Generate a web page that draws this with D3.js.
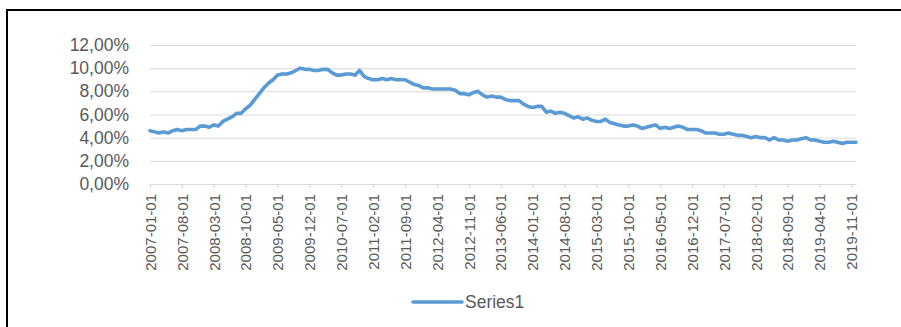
<!DOCTYPE html>
<html>
<head>
<meta charset="utf-8">
<script src="https://cdn.jsdelivr.net/npm/d3@7"></script>
<style>
  html, body { margin: 0; padding: 0; background: #fff; }
  svg { display: block; }
</style>
</head>
<body>
<svg id="chart" width="901" height="327"></svg>
<script>
// Monthly rate, January 2007 through December 2019 (percent)
const values = [
  4.6, 4.5, 4.4, 4.5, 4.4, 4.6, 4.7, 4.6, 4.7, 4.7, 4.7, 5.0,
  5.0, 4.9, 5.1, 5.0, 5.4, 5.6, 5.8, 6.1, 6.1, 6.5, 6.8, 7.3,
  7.8, 8.3, 8.7, 9.0, 9.4, 9.5, 9.5, 9.6, 9.8, 10.0, 9.9, 9.9,
  9.8, 9.8, 9.9, 9.9, 9.6, 9.4, 9.4, 9.5, 9.5, 9.4, 9.8, 9.3,
  9.1, 9.0, 9.0, 9.1, 9.0, 9.1, 9.0, 9.0, 9.0, 8.8, 8.6, 8.5,
  8.3, 8.3, 8.2, 8.2, 8.2, 8.2, 8.2, 8.1, 7.8, 7.8, 7.7, 7.9,
  8.0, 7.7, 7.5, 7.6, 7.5, 7.5, 7.3, 7.2, 7.2, 7.2, 6.9, 6.7,
  6.6, 6.7, 6.7, 6.2, 6.3, 6.1, 6.2, 6.1, 5.9, 5.7, 5.8, 5.6,
  5.7, 5.5, 5.4, 5.4, 5.6, 5.3, 5.2, 5.1, 5.0, 5.0, 5.1, 5.0,
  4.8, 4.9, 5.0, 5.1, 4.8, 4.9, 4.8, 4.9, 5.0, 4.9, 4.7, 4.7,
  4.7, 4.6, 4.4, 4.4, 4.4, 4.3, 4.3, 4.4, 4.3, 4.2, 4.2, 4.1,
  4.0, 4.1, 4.0, 4.0, 3.8, 4.0, 3.8, 3.8, 3.7, 3.8, 3.8, 3.9,
  4.0, 3.8, 3.8, 3.7, 3.6, 3.6, 3.7, 3.6, 3.5, 3.6, 3.6, 3.6
];

// One category per month, labelled as the first day of the month
const fmtDay = d3.timeFormat("%Y-%m-%d");
const categories = d3.timeMonth.range(new Date(2007, 0, 1), new Date(2020, 0, 1)).map(fmtDay);

// Every seventh month carries a label
const labelStep = 7;
const tickLabels = categories.filter((d, i) => i % labelStep === 0);

const yTicks = [0, 2, 4, 6, 8, 10, 12];
const seriesName = "Series1";

const svg = d3.select("#chart");
const W = 901, H = 327;
const plotLeft = 150, plotRight = 856, plotTop = 45, plotBottom = 184;
const blue = "#5b9bd5";
const textColor = "#595959";
const gridColor = "#d9d9d9";
const font = "'Liberation Sans', Arial, sans-serif";

svg.append("rect").attr("width", W).attr("height", H).attr("fill", "#fff");

// Frame: top and left edges
svg.append("line").attr("x1", 6).attr("x2", W).attr("y1", 10).attr("y2", 10)
  .attr("stroke", "#000").attr("stroke-width", 2);
svg.append("line").attr("x1", 7).attr("x2", 7).attr("y1", 9).attr("y2", H)
  .attr("stroke", "#000").attr("stroke-width", 2);

const x = d3.scalePoint().domain(categories).range([plotLeft, plotRight]);
const y = d3.scaleLinear().domain([0, 12]).range([plotBottom, plotTop]);

// Horizontal gridlines and y labels
const yAxis = d3.axisLeft(y)
  .tickValues(yTicks)
  .tickSize(-(plotRight - plotLeft))
  .tickPadding(21)
  .tickFormat(d => d3.format(".2f")(d).replace(".", ",") + "%");

const gy = svg.append("g").attr("transform", `translate(${plotLeft},0)`).call(yAxis);
gy.select(".domain").remove();
gy.selectAll(".tick line").attr("stroke", gridColor).attr("stroke-width", 1);
gy.selectAll(".tick text")
  .attr("fill", textColor)
  .style("font-family", font)
  .style("font-size", "17.5px");

// Category axis along the bottom
const xAxis = d3.axisBottom(x)
  .tickValues(tickLabels)
  .tickSize(4)
  .tickSizeOuter(0)
  .tickPadding(6);

const gx = svg.append("g").attr("transform", `translate(0,${plotBottom})`).call(xAxis);
gx.select(".domain").attr("stroke", gridColor).attr("stroke-width", 1.2);
gx.selectAll(".tick line").attr("stroke", gridColor).attr("stroke-width", 1.2);
gx.selectAll(".tick text")
  .attr("fill", textColor)
  .style("font-family", font)
  .style("font-size", "15px")
  .attr("text-anchor", "end")
  .attr("dy", "0.35em")
  .attr("transform", "rotate(-90)")
  .attr("x", -10)
  .attr("y", 0);

// The series line
const line = d3.line()
  .x((d, i) => x(categories[i]))
  .y(d => y(d));

svg.append("path")
  .datum(values)
  .attr("fill", "none")
  .attr("stroke", blue)
  .attr("stroke-width", 3.6)
  .attr("stroke-linejoin", "round")
  .attr("stroke-linecap", "round")
  .attr("d", line);

// Legend
const lg = svg.append("g").attr("transform", "translate(413,302)");
lg.append("line").attr("x1", 0).attr("x2", 49).attr("y1", 0).attr("y2", 0)
  .attr("stroke", blue).attr("stroke-width", 3.6).attr("stroke-linecap", "round");
lg.append("text")
  .attr("x", 52).attr("y", 0).attr("dy", "0.35em")
  .attr("fill", textColor)
  .style("font-family", font)
  .style("font-size", "17.5px")
  .text(seriesName);
</script>
</body>
</html>
